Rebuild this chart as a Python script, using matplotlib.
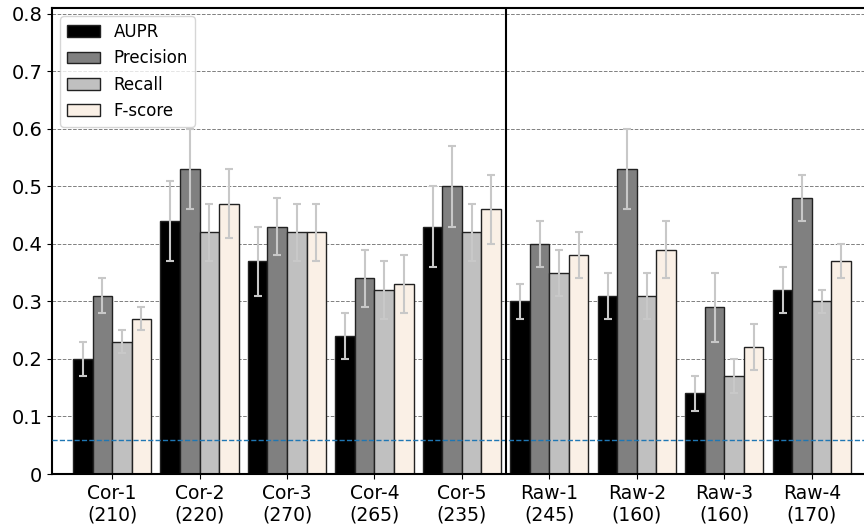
import matplotlib
matplotlib.use('Agg')
import matplotlib.pyplot as plt
import numpy as np

groups = ['Cor-1\n(210)', 'Cor-2\n(220)', 'Cor-3\n(270)', 'Cor-4\n(265)', 'Cor-5\n(235)',
          'Raw-1\n(245)', 'Raw-2\n(160)', 'Raw-3\n(160)', 'Raw-4\n(170)']

aupr = [0.20, 0.44, 0.37, 0.24, 0.43, 0.30, 0.31, 0.14, 0.32]
aupr_err = [0.03, 0.07, 0.06, 0.04, 0.07, 0.03, 0.04, 0.03, 0.04]
precision = [0.31, 0.53, 0.43, 0.34, 0.50, 0.40, 0.53, 0.29, 0.48]
precision_err = [0.03, 0.07, 0.05, 0.05, 0.07, 0.04, 0.07, 0.06, 0.04]
recall = [0.23, 0.42, 0.42, 0.32, 0.42, 0.35, 0.31, 0.17, 0.30]
recall_err = [0.02, 0.05, 0.05, 0.05, 0.05, 0.04, 0.04, 0.03, 0.02]
fscore = [0.27, 0.47, 0.42, 0.33, 0.46, 0.38, 0.39, 0.22, 0.37]
fscore_err = [0.02, 0.06, 0.05, 0.05, 0.06, 0.04, 0.05, 0.04, 0.03]

baseline = 0.06
split_at = 4.5  # between Cor-5 and Raw-1

series = [
    ('AUPR', aupr, aupr_err, 'black'),
    ('Precision', precision, precision_err, 'gray'),
    ('Recall', recall, recall_err, 'silver'),
    ('F-score', fscore, fscore_err, 'linen'),
]

fig = plt.figure(figsize=(8.64, 5.25), dpi=100)
ax = fig.add_axes([0.0602, 0.0971, 0.949, 0.8876])

x = np.arange(len(groups))
w = 0.223
for i, (name, vals, errs, col) in enumerate(series):
    ax.bar(x + (i - 1.5) * w, vals, w, color=col, edgecolor='#222222', linewidth=1.0,
           label=name, zorder=2,
           yerr=errs, error_kw=dict(ecolor='#c8c8c8', elinewidth=1.5, capsize=3,
                                    capthick=1.5, zorder=3))

ax.axhline(baseline, color='#1f77b4', linestyle='--', linewidth=1.0, zorder=4)
ax.axvline(split_at, color='black', linewidth=1.5, zorder=4)

ax.set_xlim(-0.686, 8.686)
ax.set_ylim(0, 0.81)
ax.set_xticks(x)
ax.set_xticklabels(groups, fontsize=13.5)
yt = np.arange(0, 0.81, 0.1)
ax.set_yticks(yt)
ax.set_yticklabels(['0'] + ['%.1f' % v for v in yt[1:]], fontsize=14)
ax.yaxis.grid(True, linestyle='--', color='gray', linewidth=0.7, zorder=0)
ax.set_axisbelow(True)
for s in ax.spines.values():
    s.set_linewidth(1.5)

ax.legend(loc='upper left', fontsize=12)

plt.savefig('out.png', dpi=100)
